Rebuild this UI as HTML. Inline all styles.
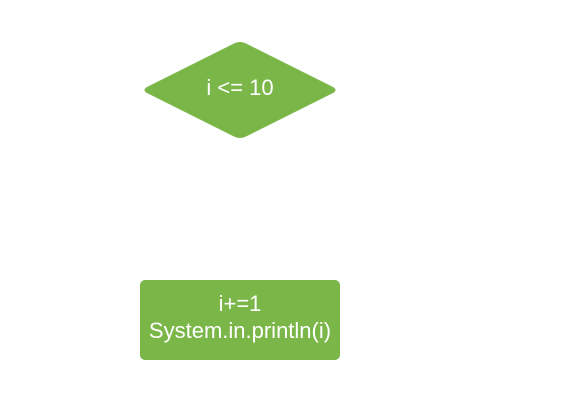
<!DOCTYPE html>
<html><head><meta charset="utf-8"><style>
html,body{margin:0;padding:0;background:#fff;width:580px;height:400px;overflow:hidden}
</style></head><body>
<svg width="580" height="400" xmlns="http://www.w3.org/2000/svg">
<path d="M233,44 Q240,40 247,44 L333,87 Q338,90 333,93 L247,136 Q240,140 233,136 L147,93 Q142,90 147,87 Z" fill="#7ab648"/>
<text x="240" y="95" font-family="Liberation Sans, sans-serif" font-size="22" fill="#fff" text-anchor="middle">i &lt;= 10</text>
<rect x="140" y="280" width="200" height="80" rx="5" fill="#7ab648"/>
<text x="240" y="311" font-family="Liberation Sans, sans-serif" font-size="22" fill="#fff" text-anchor="middle">i+=1</text>
<text x="240" y="338" font-family="Liberation Sans, sans-serif" font-size="22" fill="#fff" text-anchor="middle">System.in.println(i)</text>
</svg>
</body></html>
